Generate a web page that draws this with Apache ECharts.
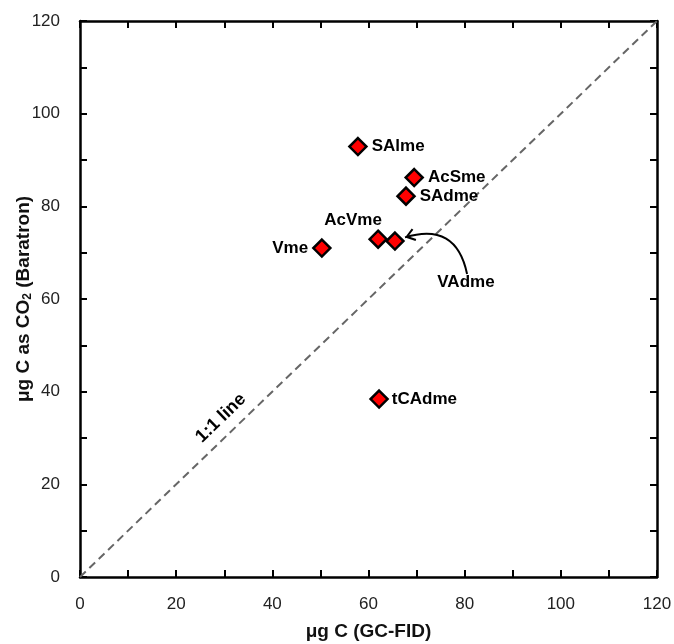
<!DOCTYPE html>
<html>
<head>
<meta charset="utf-8">
<script src="https://cdn.jsdelivr.net/npm/echarts@6/dist/echarts.min.js"></script>
<style>html,body{margin:0;padding:0;background:#fff}#c{width:674px;height:644px}</style>
</head>
<body>
<div id="c"></div>
<script>
// Data
const names = ['SAlme', 'AcSme', 'SAdme', 'AcVme', 'VAdme', 'Vme', 'tCAdme'];
const gcFid = [57.8, 69.5, 67.8, 62.0, 65.5, 50.3, 62.2];
const baratron = [92.9, 86.2, 82.2, 72.9, 72.5, 71.0, 38.4];
const axisTicks = [0, 20, 40, 60, 80, 100, 120];
const oneToOne = [0, 120];
const oneToOneLabelAt = [29.3, 34.3];
const arrowFrom = [80.5, 65.4];
const arrowTo = [67.6, 73.3];

// Label placement (layout, not data)
const labelPlace = {
  SAlme: {position: 'right', distance: 4},
  AcSme: {position: 'right', distance: 4},
  SAdme: {position: 'right', distance: 4},
  AcVme: {position: 'inside', offset: [-25, -19]},
  VAdme: {position: 'inside', offset: [71, 41]},
  Vme: {position: 'left', distance: 4},
  tCAdme: {position: 'right', distance: 3}
};

const FONT = 'Liberation Sans, Arial, sans-serif';
const axMin = axisTicks[0], axMax = axisTicks[axisTicks.length - 1];
const step = axisTicks[1] - axisTicks[0];

const pts = names.map((n, i) => ({
  name: n,
  value: [gcFid[i], baratron[i]],
  label: Object.assign({show: true, formatter: n}, labelPlace[n])
}));

function mkAxis(pos, isX, showLabels, name) {
  const a = {
    type: 'value', position: pos, min: axMin, max: axMax, interval: step,
    axisLine: {show: true, onZero: false, lineStyle: {color: '#000', width: 2.5}},
    axisTick: {show: true, inside: true, length: 7, lineStyle: {color: '#000', width: 2}},
    minorTick: {show: true, splitNumber: 2, length: 7, lineStyle: {color: '#000', width: 2}},
    splitLine: {show: false},
    axisLabel: {show: showLabels, fontFamily: FONT, fontSize: 17, color: '#222', margin: isX ? 19 : 20},
  };
  if (name) {
    a.name = name;
    a.nameLocation = 'middle';
    a.nameMoveOverlap = false;
    a.nameTextStyle = {fontFamily: FONT, fontSize: 19, fontWeight: 'bold', color: '#111',
      rich: {sub: {fontFamily: FONT, fontSize: 12, fontWeight: 'bold', color: '#111', verticalAlign: 'bottom', padding: [8, 0, 0, 0]}}};
    a.nameGap = isX ? 45 : 46;
  }
  return a;
}

// open chevron arrowhead, apex at the symbol centre
const chevron = 'path://M0,0 L0,0 M22,22 L22,22 M11,11 L17.5,20 L15.9,21.2 L11,14.4 L6.1,21.2 L4.5,20 Z';

const chart = echarts.init(document.getElementById('c'), null, {renderer: 'canvas'});
chart.setOption({
  animation: false,
  backgroundColor: '#fff',
  grid: {left: 80, right: 17, top: 21, bottom: 67, containLabel: false, outerBoundsMode: 'none'},
  xAxis: [mkAxis('bottom', true, true, 'μg C (GC-FID)'), mkAxis('top', true, false)],
  yAxis: [mkAxis('left', false, true, 'μg C as CO{sub|2} (Baratron)'), mkAxis('right', false, false)],
  series: [
    {
      type: 'line', xAxisIndex: 0, yAxisIndex: 0,
      data: [[oneToOne[0], oneToOne[0]], [oneToOne[1], oneToOne[1]]],
      symbol: 'none', silent: true, z: 1,
      lineStyle: {color: '#666', width: 2, type: [8, 5]}
    },
    {
      type: 'scatter', xAxisIndex: 0, yAxisIndex: 0, z: 3,
      data: [{value: oneToOneLabelAt}],
      symbolSize: 0, silent: true,
      itemStyle: {opacity: 1, color: '#000'},
      label: {show: true, formatter: '1:1 line', position: 'inside', rotate: 44,
        fontFamily: FONT, fontSize: 18, fontWeight: 'bold', color: '#000', textBorderWidth: 0}
    },
    {
      type: 'lines', coordinateSystem: 'cartesian2d', xAxisIndex: 0, yAxisIndex: 0,
      silent: true, z: 4,
      symbol: ['none', chevron], symbolSize: [0, 22],
      lineStyle: {color: '#000', width: 2, opacity: 1, curveness: -0.55},
      data: [{coords: [arrowFrom, arrowTo]}]
    },
    {
      type: 'scatter', xAxisIndex: 0, yAxisIndex: 0, z: 5,
      data: pts,
      symbol: 'diamond', symbolSize: 17,
      itemStyle: {color: '#ff0000', borderColor: '#000', borderWidth: 2.5, opacity: 1},
      label: {fontFamily: FONT, fontSize: 17, fontWeight: 'bold', color: '#000', textBorderWidth: 0}
    }
  ]
});
</script>
</body>
</html>
